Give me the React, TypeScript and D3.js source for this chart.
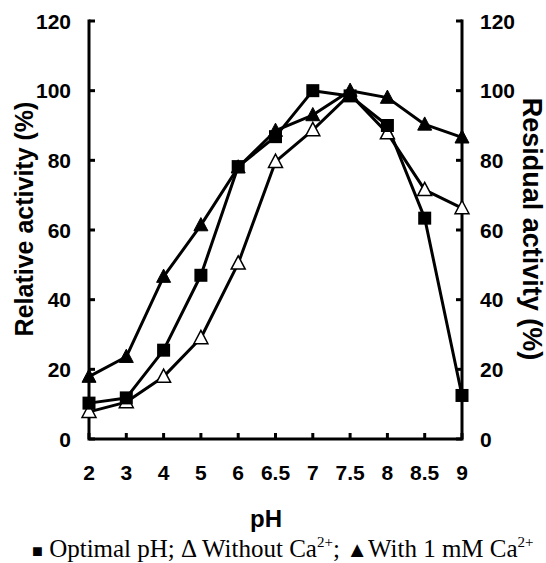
import React from "react";
import * as d3 from "d3";

const phLabels = ["2", "3", "4", "5", "6", "6.5", "7", "7.5", "8", "8.5", "9"];
const optimalPh = [10.3, 11.8, 25.5, 47, 78.2, 86.8, 100, 98.5, 90, 63.4, 12.5];
const withoutCa = [7.8, 10.6, 17.9, 29, 50.4, 79.6, 88.7, 99, 87.8, 71.5, 66.3];
const withCa = [17.9, 23.6, 46.6, 61.4, 78, 88.5, 93, 100, 98, 90.3, 86.6];
const yTicks = [0, 20, 40, 60, 80, 100, 120];

const W = 546;
const H = 563;
const left = 89;
const right = 462;
const top = 21;
const bottom = 439;
const axisFont = "'Liberation Sans', Arial, sans-serif";

function triPath(cx: number, cy: number, s: number) {
  const h = s * 0.9;
  return `M${cx},${cy - h * 0.6}L${cx + s / 2},${cy + h * 0.45}L${cx - s / 2},${cy + h * 0.45}Z`;
}

export default function App() {
  const x = d3.scalePoint<string>().domain(phLabels).range([left, right]);
  const y = d3.scaleLinear().domain([0, 120]).range([bottom, top]);

  const line = d3
    .line<number>()
    .x((_, i) => x(phLabels[i]) as number)
    .y(d => y(d));

  return (
    <svg width={W} height={H} style={{ position: "absolute", left: 0, top: 0 }}>
      <rect width={W} height={H} fill="#fff" />

      {/* axes */}
      <g stroke="#000" strokeWidth={3} fill="none">
        <path d={`M${left},${top}V${bottom}H${right}V${top}`} strokeLinecap="square" />
        {yTicks.map(t => (
          <g key={t}>
            <line x1={left} x2={left + 6} y1={y(t)} y2={y(t)} />
            <line x1={right} x2={right - 6} y1={y(t)} y2={y(t)} />
          </g>
        ))}
        {phLabels.map(p => (
          <line key={p} x1={x(p)} x2={x(p)} y1={bottom} y2={bottom - 6} />
        ))}
      </g>

      {/* tick labels */}
      <g fontFamily={axisFont} fontWeight="bold" fontSize={21} fill="#000">
        {yTicks.map(t => (
          <text key={"l" + t} x={left - 18} y={y(t) + 7.5} textAnchor="end">{t}</text>
        ))}
        {yTicks.map(t => (
          <text key={"r" + t} x={right + 18} y={y(t) + 7.5} textAnchor="start">{t}</text>
        ))}
        {phLabels.map(p => (
          <text key={p} x={x(p)} y={bottom + 41} textAnchor="middle">{p}</text>
        ))}
      </g>

      {/* titles */}
      <g fontFamily={axisFont} fontWeight="bold" fill="#000" textAnchor="middle">
        <text fontSize={25} transform={`translate(33,219) rotate(-90)`}>Relative activity (%)</text>
        <text fontSize={27} transform={`translate(523,229) rotate(90)`}>Residual activity (%)</text>
        <text fontSize={24} x={266} y={527}>pH</text>
      </g>

      {/* series */}
      <g fill="none" stroke="#000" strokeWidth={3} strokeLinejoin="round">
        <path d={line(withoutCa) || ""} />
        <path d={line(withCa) || ""} />
        <path d={line(optimalPh) || ""} />
      </g>
      {withoutCa.map((v, i) => (
        <path key={"o" + i} d={triPath(x(phLabels[i]) as number, y(v), 14)} fill="#fff" stroke="#000" strokeWidth={1.5} />
      ))}
      {withCa.map((v, i) => (
        <path key={"f" + i} d={triPath(x(phLabels[i]) as number, y(v), 14)} fill="#000" stroke="#000" strokeWidth={1} />
      ))}
      {optimalPh.map((v, i) => (
        <rect key={"s" + i} x={(x(phLabels[i]) as number) - 6.5} y={y(v) - 6.5} width={13} height={13} fill="#000" />
      ))}

      {/* legend */}
      <text x={32} y={557} fontFamily="'Liberation Serif', 'Times New Roman', serif" fontSize={25} fill="#000">
        <tspan fontSize={18}>■</tspan>
        <tspan> Optimal pH; Δ Without Ca</tspan>
        <tspan fontSize={15} dy={-10}>2+</tspan>
        <tspan dy={10}>; </tspan>
        <tspan fontSize={22}>▲</tspan>
        <tspan>With 1 mM Ca</tspan>
        <tspan fontSize={15} dy={-10}>2+</tspan>
      </text>
    </svg>
  );
}
